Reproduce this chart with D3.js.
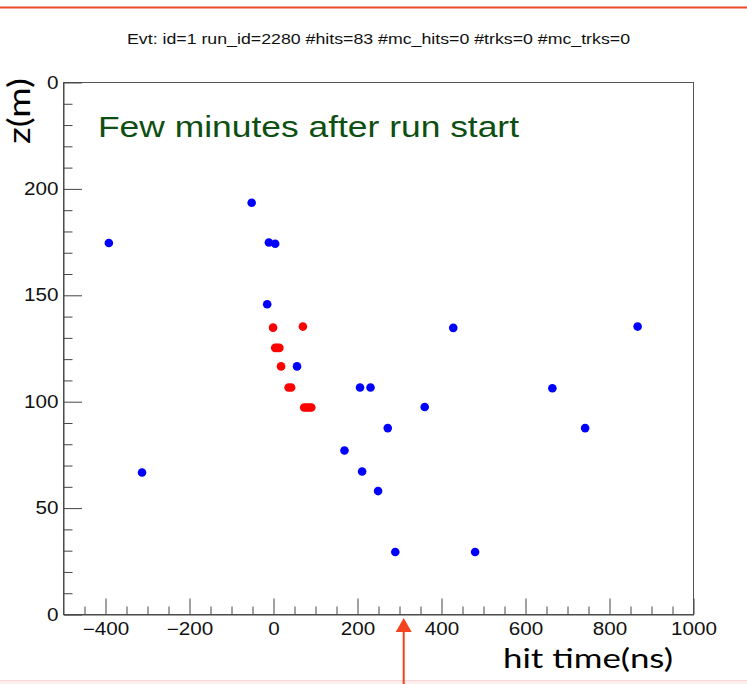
<!DOCTYPE html>
<html>
<head>
<meta charset="utf-8">
<script src="https://cdn.jsdelivr.net/npm/d3@7"></script>
<style>
  body { margin: 0; background: #fff; }
  svg { display: block; }
</style>
</head>
<body>
<svg id="chart" width="747" height="684"></svg>
<script>
// hits: time (ns) and z (m)
const blueTime = [-392, -313, -52, -11, 4, -15, 56, 206, 231, 428, 360, 272, 169, 211, 249, 290, 480, 664, 742, 867];
const blueZ    = [174.6, 66.7, 193.5, 174.8, 174.2, 145.8, 116.6, 106.7, 106.7, 134.7, 97.5, 87.6, 77.1, 67.2, 58, 29.4, 29.4, 106.3, 87.6, 135.3];
const redTime  = [-1, 70, 4, 9, 14, 18, 36, 42, 73, 79, 85, 90];
const redZ     = [134.8, 135.3, 125.3, 125.3, 125.3, 116.6, 106.7, 106.7, 97.3, 97.3, 97.3, 97.3];

const xTicks = [-400, -200, 0, 200, 400, 600, 800, 1000];
const yTicks = [0, 50, 100, 150, 200, 250];

const titleText = "Evt: id=1 run_id=2280 #hits=83 #mc_hits=0 #trks=0 #mc_trks=0";

const svg = d3.select("#chart");
const W = 747, H = 684;
const frame = { left: 63.5, right: 693.5, top: 82.5, bottom: 614.5 };

// the ROOT picture was stretched sideways a bit, so widen its text too
function stretch(sel, k) {
    sel.each(function() {
        let w = this.getComputedTextLength();
        d3.select(this).attr("textLength", w * k).attr("lengthAdjust", "spacingAndGlyphs");
    });
}

svg.append("rect").attr("width", W).attr("height", H).attr("fill", "#fff");

// slide decorations
svg.append("line")
    .attr("x1", 0).attr("x2", W).attr("y1", 7.5).attr("y2", 7.5)
    .attr("stroke", "#ee4a2a").attr("stroke-width", 2);
svg.append("rect")
    .attr("x", 0).attr("y", 680).attr("width", W).attr("height", 4)
    .attr("fill", "#fdeeee");
svg.append("line")
    .attr("x1", 0).attr("x2", W).attr("y1", 680.5).attr("y2", 680.5)
    .attr("stroke", "#f6d6d6").attr("stroke-width", 1);

let x = d3.scaleLinear().domain([-500, 1000]).range([frame.left, frame.right]);
let y = d3.scaleLinear().domain([0, 250]).range([frame.bottom, frame.top]);

// title
svg.append("text")
    .attr("x", 378.5).attr("y", 43.5)
    .attr("text-anchor", "middle")
    .style("font-family", "'Liberation Sans', Arial, sans-serif")
    .style("font-size", "14px")
    .attr("fill", "#111")
    .text(titleText)
    .attr("textLength", 503).attr("lengthAdjust", "spacingAndGlyphs");

// frame
svg.append("rect")
    .attr("x", frame.left).attr("y", frame.top)
    .attr("width", frame.right - frame.left).attr("height", frame.bottom - frame.top)
    .attr("fill", "none").attr("stroke", "#555").attr("stroke-width", 1);

const tickFont = "'Liberation Sans', Arial, sans-serif";

// x axis, ticks pointing into the frame
let xMinor = d3.range(-450, 1000, 50).filter(v => v % 200 !== 0);
svg.append("g")
    .attr("transform", `translate(0,${frame.bottom})`)
    .call(d3.axisBottom(x).tickValues(xMinor).tickFormat("").tickSizeInner(-8).tickSizeOuter(0))
    .call(g => g.select(".domain").remove())
    .call(g => g.selectAll("line").attr("stroke", "#444"));

let xAxis = svg.append("g")
    .attr("transform", `translate(0,${frame.bottom})`)
    .call(d3.axisBottom(x).tickValues(xTicks).tickFormat(d => d < 0 ? "\u2212" + Math.abs(d) : d)
        .tickSizeInner(-16).tickSizeOuter(0).tickPadding(8.5))
    .call(g => g.select(".domain").attr("stroke", "#444"))
    .call(g => g.selectAll("line").attr("stroke", "#444"));
xAxis.selectAll("text")
    .style("font-family", tickFont).style("font-size", "17.5px").attr("fill", "#111")
    .call(stretch, 1.18);

// y axis
let yMinor = d3.range(10, 250, 10).filter(v => v % 50 !== 0);
svg.append("g")
    .attr("transform", `translate(${frame.left},0)`)
    .call(d3.axisLeft(y).tickValues(yMinor).tickFormat("").tickSizeInner(-9).tickSizeOuter(0))
    .call(g => g.select(".domain").remove())
    .call(g => g.selectAll("line").attr("stroke", "#444"));

let yAxis = svg.append("g")
    .attr("transform", `translate(${frame.left},0)`)
    .call(d3.axisLeft(y).tickValues(yTicks).tickSizeInner(-18.5).tickSizeOuter(0).tickPadding(5))
    .call(g => g.select(".domain").attr("stroke", "#444"))
    .call(g => g.selectAll("line").attr("stroke", "#444"));
yAxis.selectAll("text")
    .style("font-family", tickFont).style("font-size", "17.5px").attr("fill", "#111")
    .call(stretch, 1.18);

// hits
svg.append("g")
    .selectAll("circle")
    .data(blueTime.map((t, i) => ({ t: t, z: blueZ[i] })))
    .enter()
    .append("circle")
        .attr("cx", d => x(d.t))
        .attr("cy", d => y(d.z))
        .attr("r", 4.3)
        .style("fill", "#0000ff");

svg.append("g")
    .selectAll("circle")
    .data(redTime.map((t, i) => ({ t: t, z: redZ[i] })))
    .enter()
    .append("circle")
        .attr("cx", d => x(d.t))
        .attr("cy", d => y(d.z))
        .attr("r", 4.3)
        .style("fill", "#ff0000");

// annotation inside the frame
svg.append("text")
    .attr("x", 98).attr("y", 137)
    .style("font-family", tickFont)
    .style("font-size", "30px")
    .attr("fill", "#0d4f12")
    .text("Few minutes after run start")
    .attr("textLength", 421).attr("lengthAdjust", "spacingAndGlyphs");

// slide text box for the y label, sits over the "25" of the top tick label
svg.append("rect")
    .attr("x", 0).attr("y", 68).attr("width", 46.8).attr("height", 84)
    .attr("fill", "#fff");
svg.append("text")
    .attr("transform", "translate(30,111) rotate(-90)")
    .attr("text-anchor", "middle")
    .style("font-family", "Lato, 'Open Sans', sans-serif")
    .style("font-size", "31px")
    .attr("fill", "#000")
    .text("z(m)")
    .attr("textLength", 66).attr("lengthAdjust", "spacingAndGlyphs");

svg.append("text")
    .attr("x", 503).attr("y", 667.5)
    .style("font-family", "Lato, 'Open Sans', sans-serif")
    .style("font-size", "27.5px")
    .attr("fill", "#000")
    .text("hit time(ns)")
    .attr("textLength", 170).attr("lengthAdjust", "spacingAndGlyphs");

// red arrow pointing at the axis
svg.append("line")
    .attr("x1", 403.7).attr("x2", 403.7).attr("y1", 630).attr("y2", H)
    .attr("stroke", "#f4431f").attr("stroke-width", 2);
svg.append("path")
    .attr("d", `M403.7,618 L411.7,632 L395.7,632 Z`)
    .attr("fill", "#f4431f");
</script>
</body>
</html>
